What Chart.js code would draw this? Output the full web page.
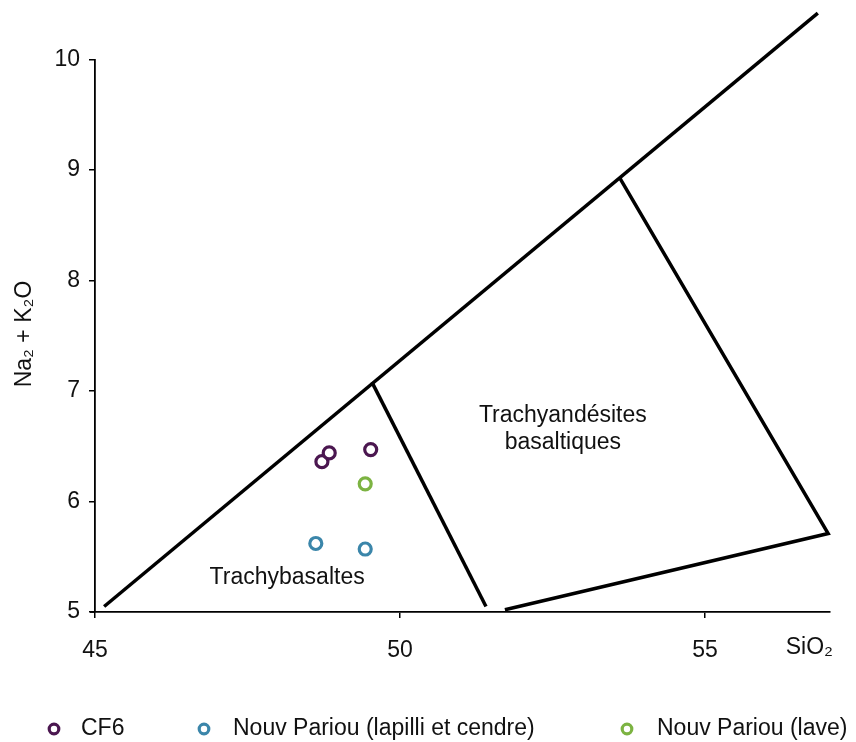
<!DOCTYPE html>
<html>
<head>
<meta charset="utf-8">
<script src="https://cdn.jsdelivr.net/npm/chart.js@4/dist/chart.umd.min.js"></script>
<style>
html,body{margin:0;padding:0;background:#fff;}
#wrap{width:856px;height:742px;}
</style>
</head>
<body>
<div id="wrap"><canvas id="c" width="856" height="742"></canvas></div>
<script>
// ---- data ----
const seriesNames = ['CF6', 'Nouv Pariou (lapilli et cendre)', 'Nouv Pariou (lave)'];
const cf6X = [48.72, 48.84, 49.52];
const cf6Y = [6.36, 6.44, 6.47];
const lapilliX = [48.62, 49.43];
const lapilliY = [5.62, 5.57];
const laveX = [49.43];
const laveY = [6.16];

// field boundaries (SiO2, Na2O + K2O)
const boundaryX = [[45.15, 56.85], [49.54, 51.41], [53.6, 57.02, 51.72]];
const boundaryY = [[5.05, 10.42], [7.08, 5.05], [8.93, 5.71, 5.02]];

// field names
const regionText = ['Trachybasaltes', 'Trachyandésites', 'basaltiques'];
const regionX = [48.15, 52.67, 52.67];
const regionY = [5.31, 6.78, 6.53];

const xTicks = [45, 50, 55];
const yTicks = [5, 6, 7, 8, 9, 10];
const xTitle = 'SiO₂';
const yTitle = 'Na₂ + K₂O';

// ---- styles ----
const FONT = '"Liberation Sans", Arial, Helvetica, sans-serif';
const seriesColors = ['#4B1750', '#3B86AA', '#7CB342'];

function pts(xs, ys) { return xs.map((x, i) => ({x: x, y: ys[i]})); }

const datasets = [];
boundaryX.forEach((xs, i) => {
  datasets.push({
    label: '', data: pts(xs, boundaryY[i]), showLine: true, clip: false,
    borderColor: '#000', borderWidth: 3.5, pointRadius: 0, pointHoverRadius: 0,
    borderJoinStyle: 'miter', borderCapStyle: 'butt', tension: 0, order: 2
  });
});
[[cf6X, cf6Y], [lapilliX, lapilliY], [laveX, laveY]].forEach((s, i) => {
  datasets.push({
    label: seriesNames[i], data: pts(s[0], s[1]), showLine: false,
    pointRadius: 6, pointBorderWidth: 3.2, pointBackgroundColor: '#fff',
    borderColor: seriesColors[i], backgroundColor: '#fff', order: 1, isSeries: true
  });
});

const decor = {
  id: 'decor',
  afterDraw(chart) {
    const ctx = chart.ctx;
    const xs = chart.scales.x, ys = chart.scales.y;
    ctx.save();
    ctx.fillStyle = '#111';
    ctx.font = '23px ' + FONT;
    ctx.textAlign = 'center';
    ctx.textBaseline = 'middle';
    regionText.forEach((t, i) => {
      ctx.fillText(t, xs.getPixelForValue(regionX[i]), ys.getPixelForValue(regionY[i]));
    });
    // axis titles
    ctx.textAlign = 'right';
    ctx.fillText(xTitle, chart.chartArea.right + 3, 648);
    ctx.save();
    ctx.translate(25, 334);
    ctx.rotate(-Math.PI / 2);
    ctx.textAlign = 'center';
    ctx.fillText(yTitle, 0, 0);
    ctx.restore();
    // small extension of the x axis line to the left of the y axis
    ctx.strokeStyle = '#000';
    ctx.lineWidth = 1.8;
    ctx.beginPath();
    ctx.moveTo(chart.chartArea.left - 5, chart.chartArea.bottom);
    ctx.lineTo(chart.chartArea.left, chart.chartArea.bottom);
    ctx.stroke();
    // legend
    const mx = [54, 204, 627], tx = [81, 233, 657], ly = 729;
    ctx.textAlign = 'left';
    chart.data.datasets.filter(d => d.isSeries).forEach((d, i) => {
      ctx.beginPath();
      ctx.arc(mx[i], ly, 4.8, 0, Math.PI * 2);
      ctx.fillStyle = '#fff';
      ctx.fill();
      ctx.lineWidth = 3.2;
      ctx.strokeStyle = d.borderColor;
      ctx.stroke();
      ctx.fillStyle = '#111';
      ctx.fillText(d.label, tx[i], ly);
    });
    ctx.restore();
  }
};

new Chart(document.getElementById('c'), {
  type: 'scatter',
  data: {datasets: datasets},
  options: {
    responsive: false,
    animation: false,
    devicePixelRatio: 1,
    layout: {padding: {top: 59.5, right: 26, left: 0, bottom: 0}},
    plugins: {legend: {display: false}, tooltip: {enabled: false}},
    scales: {
      x: {
        type: 'linear', min: 45, max: 57.05,
        afterBuildTicks: s => { s.ticks = xTicks.map(v => ({value: v})); },
        afterFit: s => { s.height = 130; },
        grid: {drawOnChartArea: false, drawTicks: true, tickLength: 6, color: '#000', lineWidth: 1.5},
        border: {display: true, color: '#000', width: 1.8},
        ticks: {color: '#111', font: {family: FONT, size: 23}, padding: 19, maxRotation: 0}
      },
      y: {
        type: 'linear', min: 5, max: 10,
        afterBuildTicks: s => { s.ticks = yTicks.map(v => ({value: v})); },
        afterFit: s => { s.width = 95; },
        grid: {drawOnChartArea: false, drawTicks: true, tickLength: 6, color: '#000', lineWidth: 1.5},
        border: {display: true, color: '#000', width: 1.8},
        ticks: {color: '#111', font: {family: FONT, size: 23}, padding: 9}
      }
    }
  },
  plugins: [decor]
});
</script>
</body>
</html>
